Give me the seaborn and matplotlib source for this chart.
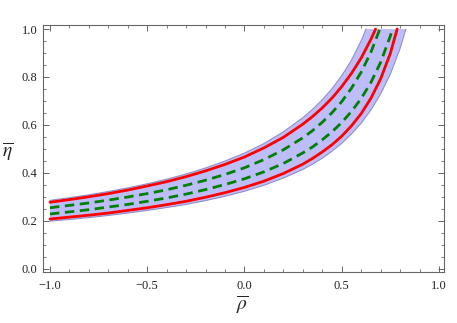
import numpy as np
import matplotlib
matplotlib.use("Agg")
import matplotlib.pyplot as plt
import seaborn as sns

# curves (rho_bar, eta_bar); each curve ends where it leaves the top at eta = 1
band_hi_rho = [-1.0, -0.9, -0.8, -0.7, -0.6, -0.5, -0.4, -0.3, -0.2, -0.1, 0.0, 0.1, 0.2, 0.3, 0.35, 0.4, 0.45, 0.5, 0.55, 0.6, 0.625]
band_hi_eta = [0.285, 0.296, 0.308, 0.322, 0.337, 0.354, 0.373, 0.395, 0.420, 0.449, 0.482, 0.522, 0.571, 0.630, 0.665, 0.705, 0.751, 0.805, 0.870, 0.951, 1.0]

band_lo_rho = [-1.0, -0.9, -0.8, -0.7, -0.6, -0.5, -0.4, -0.3, -0.2, -0.1, 0.0, 0.1, 0.2, 0.3, 0.35, 0.4, 0.45, 0.5, 0.55, 0.6, 0.65, 0.7, 0.75, 0.8, 0.83]
band_lo_eta = [0.198, 0.205, 0.213, 0.222, 0.232, 0.243, 0.255, 0.268, 0.284, 0.302, 0.323, 0.348, 0.378, 0.414, 0.436, 0.461, 0.490, 0.523, 0.562, 0.607, 0.662, 0.729, 0.812, 0.918, 1.0]

red_hi_rho = [-1.0, -0.9, -0.8, -0.7, -0.6, -0.5, -0.4, -0.3, -0.2, -0.1, 0.0, 0.1, 0.2, 0.3, 0.35, 0.4, 0.45, 0.5, 0.55, 0.6, 0.65, 0.674]
red_hi_eta = [0.277, 0.288, 0.300, 0.313, 0.328, 0.345, 0.363, 0.384, 0.408, 0.435, 0.466, 0.504, 0.548, 0.603, 0.635, 0.671, 0.712, 0.760, 0.815, 0.879, 0.957, 1.0]

red_lo_rho = [-1.0, -0.9, -0.8, -0.7, -0.6, -0.5, -0.4, -0.3, -0.2, -0.1, 0.0, 0.1, 0.2, 0.3, 0.35, 0.4, 0.45, 0.5, 0.55, 0.6, 0.65, 0.7, 0.75, 0.785]
red_lo_eta = [0.207, 0.215, 0.223, 0.232, 0.243, 0.254, 0.267, 0.281, 0.298, 0.317, 0.339, 0.365, 0.397, 0.436, 0.46, 0.487, 0.517, 0.553, 0.596, 0.647, 0.711, 0.792, 0.899, 1.0]

green_hi_rho = [-1.0, -0.9, -0.8, -0.7, -0.6, -0.5, -0.4, -0.3, -0.2, -0.1, 0.0, 0.1, 0.2, 0.3, 0.35, 0.4, 0.45, 0.5, 0.55, 0.6, 0.65, 0.696]
green_hi_eta = [0.254, 0.264, 0.274, 0.286, 0.299, 0.313, 0.329, 0.348, 0.369, 0.393, 0.421, 0.455, 0.496, 0.546, 0.576, 0.611, 0.651, 0.697, 0.753, 0.820, 0.903, 1.0]

green_lo_rho = [-1.0, -0.9, -0.8, -0.7, -0.6, -0.5, -0.4, -0.3, -0.2, -0.1, 0.0, 0.1, 0.2, 0.3, 0.35, 0.4, 0.45, 0.5, 0.55, 0.6, 0.65, 0.7, 0.75, 0.761]
green_lo_eta = [0.228, 0.237, 0.246, 0.257, 0.268, 0.281, 0.295, 0.311, 0.33, 0.351, 0.375, 0.404, 0.439, 0.483, 0.508, 0.538, 0.571, 0.61, 0.656, 0.71, 0.777, 0.861, 0.971, 1.0]

x_ticks = [-1.0, -0.5, 0.0, 0.5, 1.0]
y_ticks = [0.0, 0.2, 0.4, 0.6, 0.8, 1.0]

sns.set_theme(style="ticks")
plt.rcParams["font.family"] = ["Liberation Serif", "DejaVu Serif"]
plt.rcParams["mathtext.fontset"] = "stix"
plt.rcParams["axes.unicode_minus"] = True

fig = plt.figure(figsize=(4.57, 3.23), dpi=100)
ax = fig.add_axes([0.094, 0.158, 0.8776, 0.7646])

# shaded band between the two outer curves
poly_x = band_hi_rho + band_lo_rho[::-1]
poly_y = band_hi_eta + band_lo_eta[::-1]
ax.fill(poly_x, poly_y, facecolor="#bdbdfa", edgecolor="none", zorder=1)
ax.plot(band_hi_rho, band_hi_eta, color="#9090c8", lw=0.8, zorder=2)
ax.plot(band_lo_rho, band_lo_eta, color="#9090c8", lw=0.8, zorder=2)

for rr, ee in [(red_hi_rho, red_hi_eta), (red_lo_rho, red_lo_eta)]:
    sns.lineplot(x=rr, y=ee, ax=ax, color="#ff0000", lw=2.0, sort=False, zorder=3)
for rr, ee in [(green_hi_rho, green_hi_eta), (green_lo_rho, green_lo_eta)]:
    sns.lineplot(x=rr, y=ee, ax=ax, color="#008000", lw=2.0, sort=False,
                 linestyle=(0, (3.4, 2.0)), zorder=4)

ax.set_xlim(-1.036, 1.026)
ax.set_ylim(-0.014, 1.017)
ax.set_xticks(x_ticks)
ax.set_yticks(y_ticks)
ax.set_xticklabels([f"{t:.1f}".replace("-", "\u2212") for t in x_ticks])
ax.set_yticklabels([f"{t:.1f}" for t in y_ticks])
ax.set_xticks(np.arange(-1.0, 1.01, 0.1), minor=True)
ax.set_yticks(np.arange(0.0, 1.01, 0.05), minor=True)

frame = "#666666"
for s in ax.spines.values():
    s.set_color(frame)
    s.set_linewidth(0.8)
ax.tick_params(which="both", direction="in", top=True, right=True, color=frame,
               labelsize=9, labelcolor="#222222")
ax.tick_params(which="major", length=4, width=0.7)
ax.tick_params(which="minor", length=2, width=0.6)
ax.tick_params(axis="x", pad=5.5)
ax.tick_params(axis="y", pad=4)

ax.set_xlabel(r"$\overline{\rho}$", fontsize=14)
ax.set_ylabel(r"$\overline{\eta}$", fontsize=14, rotation=0)
ax.xaxis.set_label_coords(0.496, -0.134)
ax.yaxis.set_label_coords(-0.087, 0.486)
ax.xaxis.label.set_va("center")
ax.yaxis.label.set_va("center")
ax.yaxis.label.set_ha("center")

fig.savefig("out.png", dpi=100)
